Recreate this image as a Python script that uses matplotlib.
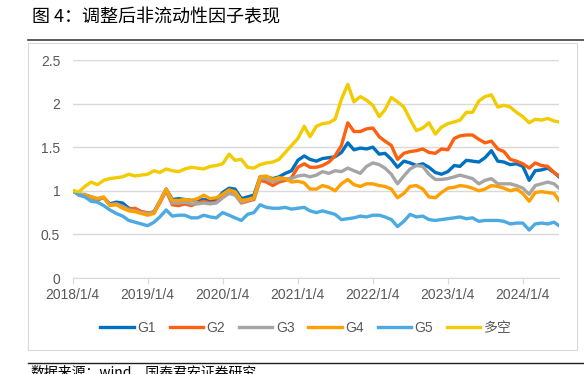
import pandas as pd
import matplotlib.pyplot as plt
from matplotlib.lines import Line2D
from matplotlib.patches import Rectangle

plt.rcParams['font.family'] = ['Liberation Sans', 'Noto Sans CJK SC', 'DejaVu Sans']

# monthly points, Jan 2018 .. end of Jun 2024
dates = list(pd.date_range('2018-01-01', periods=78, freq='MS') + pd.Timedelta(days=3))
dates.append(pd.Timestamp('2024-06-28'))

g1 = [1.00, 0.96, 0.95, 0.93, 0.90, 0.92, 0.85, 0.87, 0.86, 0.80, 0.79, 0.76, 0.74, 0.76, 0.88, 1.02, 0.90, 0.91, 0.90, 0.89,
      0.90, 0.90, 0.89, 0.90, 0.98, 1.03, 1.02, 0.91, 0.93, 0.95, 1.16, 1.16, 1.14, 1.16, 1.20, 1.23, 1.35, 1.40, 1.36,
      1.34, 1.37, 1.38, 1.39, 1.44, 1.55, 1.47, 1.49, 1.48, 1.50, 1.42, 1.43, 1.36, 1.27, 1.34, 1.32, 1.29, 1.31, 1.27, 1.21,
      1.19, 1.22, 1.29, 1.28, 1.35, 1.34, 1.33, 1.38, 1.46, 1.34, 1.33, 1.30, 1.31, 1.28, 1.12, 1.23, 1.24, 1.26, 1.21, 1.16]
g2 = [1.00, 0.96, 0.95, 0.92, 0.90, 0.92, 0.84, 0.85, 0.82, 0.79, 0.80, 0.76, 0.75, 0.75, 0.86, 1.00, 0.84, 0.83, 0.85, 0.83,
      0.86, 0.88, 0.86, 0.87, 0.93, 0.98, 0.96, 0.86, 0.88, 0.90, 1.12, 1.10, 1.06, 1.10, 1.12, 1.15, 1.27, 1.31, 1.27,
      1.27, 1.29, 1.33, 1.40, 1.52, 1.78, 1.68, 1.68, 1.71, 1.72, 1.62, 1.57, 1.52, 1.36, 1.43, 1.45, 1.46, 1.48, 1.44, 1.43,
      1.48, 1.47, 1.60, 1.63, 1.64, 1.64, 1.59, 1.55, 1.57, 1.48, 1.45, 1.36, 1.34, 1.31, 1.26, 1.32, 1.29, 1.28, 1.21, 1.17]
g3 = [1.00, 0.96, 0.96, 0.93, 0.91, 0.92, 0.84, 0.85, 0.82, 0.78, 0.77, 0.75, 0.74, 0.75, 0.87, 1.01, 0.86, 0.86, 0.87, 0.85,
      0.85, 0.86, 0.85, 0.86, 0.92, 0.97, 0.95, 0.87, 0.89, 0.91, 1.14, 1.14, 1.10, 1.13, 1.14, 1.14, 1.17, 1.18, 1.16,
      1.18, 1.22, 1.20, 1.23, 1.22, 1.26, 1.23, 1.20, 1.28, 1.32, 1.30, 1.26, 1.19, 1.08, 1.17, 1.25, 1.29, 1.28, 1.19, 1.13,
      1.13, 1.14, 1.16, 1.18, 1.16, 1.14, 1.08, 1.12, 1.14, 1.08, 1.08, 1.08, 1.06, 1.03, 0.96, 1.06, 1.08, 1.10, 1.08, 1.03]
g4 = [1.00, 0.95, 0.95, 0.93, 0.91, 0.93, 0.83, 0.84, 0.80, 0.77, 0.76, 0.74, 0.72, 0.74, 0.88, 1.02, 0.89, 0.89, 0.90, 0.89,
      0.91, 0.95, 0.91, 0.92, 0.96, 1.01, 0.99, 0.89, 0.90, 0.92, 1.16, 1.17, 1.13, 1.15, 1.14, 1.10, 1.11, 1.09, 1.02,
      1.02, 1.06, 1.04, 1.00, 1.08, 1.13, 1.07, 1.05, 1.08, 1.08, 1.06, 1.05, 1.02, 0.92, 0.97, 1.05, 1.06, 1.02, 0.93, 0.92,
      0.98, 1.03, 1.04, 1.06, 1.05, 1.03, 1.00, 1.02, 1.06, 1.05, 1.03, 1.00, 1.02, 0.97, 0.88, 0.98, 0.99, 0.98, 0.97, 0.89]
g5 = [1.00, 0.95, 0.93, 0.88, 0.87, 0.83, 0.78, 0.74, 0.71, 0.66, 0.64, 0.62, 0.60, 0.64, 0.70, 0.78, 0.71, 0.72, 0.72, 0.69,
      0.69, 0.72, 0.70, 0.69, 0.75, 0.72, 0.69, 0.66, 0.73, 0.75, 0.84, 0.81, 0.80, 0.80, 0.81, 0.79, 0.80, 0.81, 0.77,
      0.75, 0.77, 0.75, 0.73, 0.67, 0.68, 0.69, 0.71, 0.70, 0.72, 0.72, 0.70, 0.67, 0.59, 0.65, 0.73, 0.70, 0.71, 0.67, 0.66,
      0.67, 0.68, 0.69, 0.70, 0.68, 0.69, 0.65, 0.66, 0.66, 0.66, 0.65, 0.62, 0.63, 0.63, 0.55, 0.62, 0.63, 0.62, 0.64, 0.60]
long_short = [1.00, 0.99, 1.05, 1.10, 1.07, 1.12, 1.14, 1.15, 1.16, 1.19, 1.17, 1.18, 1.19, 1.23, 1.21, 1.25, 1.23, 1.22, 1.25, 1.27,
              1.26, 1.25, 1.28, 1.29, 1.31, 1.42, 1.35, 1.36, 1.27, 1.26, 1.30, 1.32, 1.33, 1.36, 1.44, 1.52, 1.60, 1.74, 1.62,
              1.74, 1.77, 1.78, 1.82, 2.05, 2.22, 2.02, 2.08, 2.04, 1.98, 1.85, 1.93, 2.07, 2.02, 1.96, 1.82, 1.69, 1.72, 1.78, 1.65,
              1.73, 1.77, 1.79, 1.81, 1.90, 1.90, 2.03, 2.08, 2.10, 1.96, 1.98, 1.96, 1.90, 1.85, 1.78, 1.82, 1.81, 1.83, 1.80, 1.79]

names = ['G1', 'G2', 'G3', 'G4', 'G5', '多空']
series = [g1, g2, g3, g4, g5, long_short]
colors = ['#0070C0', '#FF6010', '#A5A5A5', '#FFA000', '#4BAAE2', '#F2CB00']

tick_years = [2018, 2019, 2020, 2021, 2022, 2023, 2024]
y_ticks = [0, 0.5, 1, 1.5, 2, 2.5]
y_labels = ['0', '0.5', '1', '1.5', '2', '2.5']

W, H = 584, 374
fig = plt.figure(figsize=(W / 100, H / 100), dpi=100)
ax = fig.add_axes([72.7 / W, 1 - 278 / H, (559 - 72.7) / W, (278 - 60) / H])

for name, vals, c in zip(names, series, colors):
    ax.plot(dates, vals, color=c, lw=2.4, label=name, solid_joinstyle='round')

ax.set_ylim(0, 2.5)
ax.set_yticks(y_ticks)
ax.set_yticklabels(y_labels)
ax.set_xlim(dates[0], dates[-1])
ax.set_xticks([pd.Timestamp(f'{y}-01-04') for y in tick_years])
ax.set_xticklabels([f'{y}/1/4' for y in tick_years])

ax.grid(axis='y', color='#D9D9D9', lw=1)
ax.set_axisbelow(True)
for s in ['top', 'right', 'left']:
    ax.spines[s].set_visible(False)
ax.spines['bottom'].set_color('#D9D9D9')
ax.tick_params(axis='y', length=0, pad=9, labelsize=10, labelcolor='#595959')
ax.tick_params(axis='x', length=4, color='#D9D9D9', pad=3, labelsize=10, labelcolor='#595959')

fig.legend(loc='center', bbox_to_anchor=(306 / W, 1 - 328 / H), ncol=6, frameon=False,
           handlelength=2.4, handletextpad=0.25, columnspacing=1.0, fontsize=10,
           labelcolor='#595959')

# title, frame and rules around the chart
fig.text(32 / W, 1 - 17 / H, '图 4：调整后非流动性因子表现', fontsize=13, va='center',
         family=['Noto Sans CJK SC'])
fig.add_artist(Line2D([28 / W, 1], [1 - 40 / H] * 2, color='#404040', lw=1.2))
fig.add_artist(Rectangle((28 / W, 1 - 350 / H), (577 - 28) / W, (350 - 43) / H,
                         transform=fig.transFigure, fill=False, ec='#D9D9D9', lw=0.8))
fig.add_artist(Line2D([28 / W, 1], [1 - 363 / H] * 2, color='#202020', lw=1))
fig.text(30 / W, 1 - 365 / H, '数据来源：wind，国泰君安证券研究', fontsize=10, va='top',
         family=['Noto Sans CJK SC'])

fig.savefig('out.png', dpi=100)
